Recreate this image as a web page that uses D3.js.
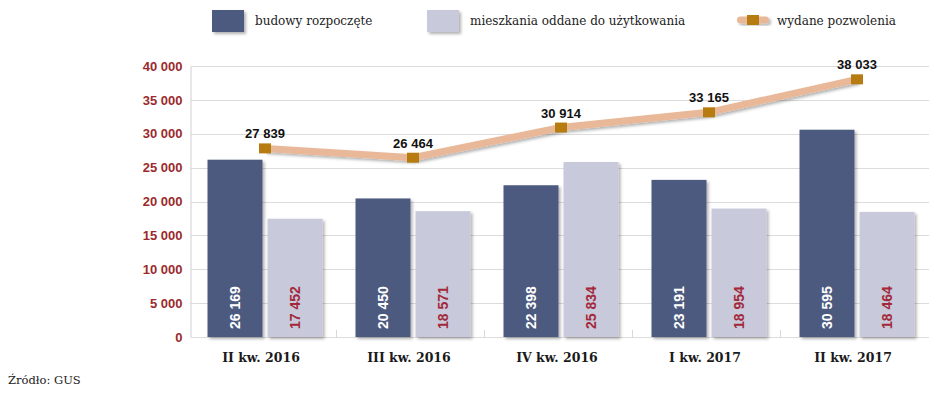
<!DOCTYPE html>
<html>
<head>
<meta charset="utf-8">
<script src="https://cdn.jsdelivr.net/npm/d3@7"></script>
<style>
  body { margin: 0; background: #fff; }
  svg { display: block; }
</style>
</head>
<body>
<div class="chart"></div>
<script>
// data
const quarters = ['II kw. 2016', 'III kw. 2016', 'IV kw. 2016', 'I kw. 2017', 'II kw. 2017'];
const started = [26169, 20450, 22398, 23191, 30595];
const completed = [17452, 18571, 25834, 18954, 18464];
const permits = [27839, 26464, 30914, 33165, 38033];
const yTicks = [0, 5000, 10000, 15000, 20000, 25000, 30000, 35000, 40000];
const seriesNames = ['budowy rozpoczęte', 'mieszkania oddane do użytkowania', 'wydane pozwolenia'];

const config = { width: 945, height: 395 };
const colors = { dark: '#4e5a80', light: '#c8cadb', line: '#e8b898', marker: '#b77c10', axis: '#9b2a2c', red: '#a3283a' };

const fmt = d3.formatLocale({ decimal: ',', thousands: ' ', grouping: [3], currency: ['', ''] }).format(',d');

const svg = d3.select('.chart').append('svg')
  .attr('width', config.width)
  .attr('height', config.height);

const defs = svg.append('defs');
const shadow = defs.append('filter').attr('id', 'shadow')
  .attr('x', '-20%').attr('y', '-20%').attr('width', '150%').attr('height', '150%');
shadow.append('feDropShadow')
  .attr('dx', 2).attr('dy', 2).attr('stdDeviation', 1.8)
  .attr('flood-color', '#000').attr('flood-opacity', 0.3);

const x = d3.scaleBand().domain(quarters).range([191, 931]).paddingInner(0).paddingOuter(0);
const y = d3.scaleLinear().domain([0, 40000]).range([337, 66]);
const barW = 55, gap = 5;

// grid lines
svg.append('g')
  .selectAll('line')
  .data(yTicks)
  .enter()
  .append('line')
  .attr('x1', 191).attr('x2', 929)
  .attr('y1', d => Math.round(y(d)) + 0.5)
  .attr('y2', d => Math.round(y(d)) + 0.5)
  .attr('stroke', '#dcdcdc')
  .attr('stroke-width', 1);

// y axis
const yAxis = svg.append('g')
  .attr('transform', 'translate(190.5,0)')
  .call(d3.axisLeft(y).tickValues(yTicks).tickFormat(fmt).tickSize(0).tickPadding(8));
yAxis.select('.domain').attr('stroke', '#d0d0d0');
yAxis.selectAll('text')
  .attr('fill', colors.axis)
  .attr('font-family', 'Liberation Sans, Arial, sans-serif')
  .attr('font-weight', 'bold')
  .attr('font-size', 13);

// small separators on the baseline
svg.append('g')
  .selectAll('line')
  .data(quarters.slice(1))
  .enter()
  .append('line')
  .attr('x1', d => x(d) - 2.5).attr('x2', d => x(d) - 2.5)
  .attr('y1', 330).attr('y2', 337)
  .attr('stroke', '#d8d8d8');

// bars
const groups = svg.append('g')
  .selectAll('g')
  .data(quarters.map((q, i) => ({ q, s: started[i], c: completed[i] })))
  .enter()
  .append('g')
  .attr('transform', d => `translate(${x(d.q) + x.bandwidth() / 2},0)`);

groups.append('rect')
  .attr('x', -barW - gap / 2)
  .attr('y', d => y(d.s))
  .attr('width', barW)
  .attr('height', d => y(0) - y(d.s))
  .attr('fill', colors.dark)
  .attr('filter', 'url(#shadow)');

groups.append('rect')
  .attr('x', gap / 2)
  .attr('y', d => y(d.c))
  .attr('width', barW)
  .attr('height', d => y(0) - y(d.c))
  .attr('fill', colors.light)
  .attr('filter', 'url(#shadow)');

groups.append('text')
  .attr('transform', `translate(${-gap / 2 - barW / 2 + 5},329) rotate(-90)`)
  .attr('fill', '#fff')
  .attr('font-family', 'Liberation Sans, Arial, sans-serif')
  .attr('font-weight', 'bold')
  .attr('font-size', 14)
  .text(d => fmt(d.s));

groups.append('text')
  .attr('transform', `translate(${gap / 2 + barW / 2 + 5},329) rotate(-90)`)
  .attr('fill', colors.red)
  .attr('font-family', 'Liberation Sans, Arial, sans-serif')
  .attr('font-weight', 'bold')
  .attr('font-size', 14)
  .text(d => fmt(d.c));

// x labels
svg.append('g')
  .selectAll('text')
  .data(quarters)
  .enter()
  .append('text')
  .attr('x', d => x(d) + x.bandwidth() / 2 - 4)
  .attr('y', 362)
  .attr('text-anchor', 'middle')
  .attr('font-family', 'DejaVu Serif, serif')
  .attr('font-weight', 'bold')
  .attr('font-size', 12.5)
  .attr('fill', '#1a1a1a')
  .text(d => d);

// permits line
const pts = quarters.map((q, i) => ({ q, v: permits[i] }));
const line = d3.line().x(d => x(d.q) + x.bandwidth() / 2).y(d => y(d.v));

svg.append('path')
  .datum(pts)
  .attr('d', line)
  .attr('fill', 'none')
  .attr('stroke', colors.line)
  .attr('stroke-width', 7)
  .attr('filter', 'url(#shadow)');

svg.append('g')
  .selectAll('rect')
  .data(pts)
  .enter()
  .append('rect')
  .attr('x', d => x(d.q) + x.bandwidth() / 2 - 6)
  .attr('y', d => y(d.v) - 5)
  .attr('width', 12)
  .attr('height', 10)
  .attr('fill', colors.marker);

svg.append('g')
  .selectAll('text')
  .data(pts)
  .enter()
  .append('text')
  .attr('x', d => x(d.q) + x.bandwidth() / 2)
  .attr('y', d => y(d.v) - 10)
  .attr('text-anchor', 'middle')
  .attr('font-family', 'Liberation Sans, Arial, sans-serif')
  .attr('font-weight', 'bold')
  .attr('font-size', 13)
  .attr('fill', '#111')
  .text(d => fmt(d.v));

// legend
const legend = svg.append('g');
const legendItems = [
  { name: seriesNames[0], x: 212, type: 'bar', color: colors.dark },
  { name: seriesNames[1], x: 427, type: 'bar', color: colors.light },
  { name: seriesNames[2], x: 737, type: 'line' }
];

legendItems.forEach(item => {
  if (item.type === 'bar') {
    legend.append('rect')
      .attr('x', item.x).attr('y', 10)
      .attr('width', 32).attr('height', 22)
      .attr('fill', item.color)
      .attr('filter', 'url(#shadow)');
  } else {
    legend.append('rect')
      .attr('x', item.x).attr('y', 16.5)
      .attr('width', 32).attr('height', 7)
      .attr('rx', 3.5)
      .attr('fill', colors.line)
      .attr('filter', 'url(#shadow)');
    legend.append('rect')
      .attr('x', item.x + 10).attr('y', 15)
      .attr('width', 12).attr('height', 10)
      .attr('fill', colors.marker);
  }
  legend.append('text')
    .attr('x', item.type === 'bar' ? item.x + 43 : item.x + 40)
    .attr('y', 25)
    .attr('font-family', 'DejaVu Serif, serif')
    .attr('font-size', 12)
    .attr('fill', '#222')
    .text(item.name);
});

// source
svg.append('text')
  .attr('x', 8).attr('y', 384)
  .attr('font-family', 'DejaVu Serif, serif')
  .attr('font-size', 11.5)
  .attr('fill', '#222')
  .text('Źródło: GUS');
</script>
</body>
</html>
